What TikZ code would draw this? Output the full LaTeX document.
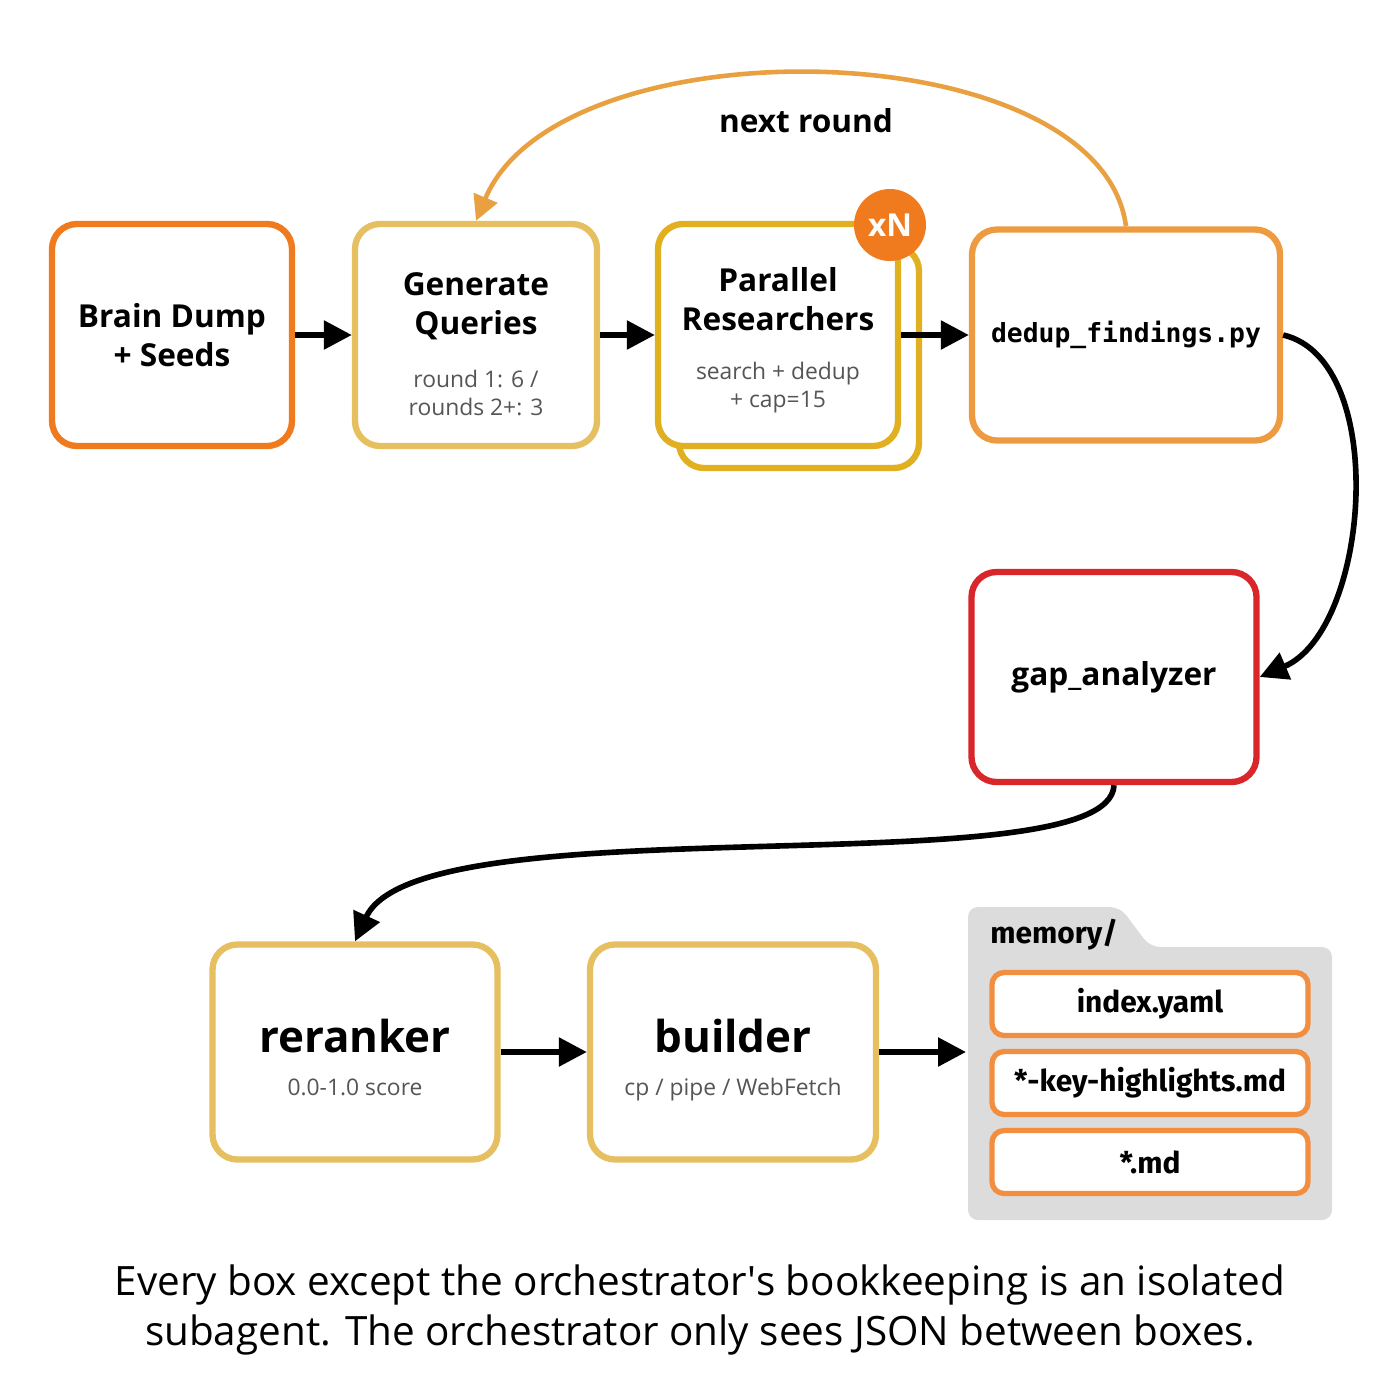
\documentclass[tikz,border=0pt]{standalone}
\usepackage{fontspec}
\setmainfont{Open Sans}
\newfontfamily\monof{DejaVu Sans Mono}
\newfontfamily\condf{Fira Sans}
\usetikzlibrary{arrows.meta}
\definecolor{cOrange}{HTML}{F07A1E}
\definecolor{cLight}{HTML}{E6C060}
\definecolor{cGold}{HTML}{E0B020}
\definecolor{cDedup}{HTML}{EE9A40}
\definecolor{cRed}{HTML}{D8262A}
\definecolor{cArc}{HTML}{E8A040}
\definecolor{cGray}{HTML}{DCDCDC}
\definecolor{cSub}{HTML}{555555}
\tikzset{
  box/.style={draw=#1, line width=1.8pt, rounded corners=0.25cm, fill=white, align=center, inner sep=0pt},
  ttl/.style={font=\bfseries\fontsize{9}{11}\selectfont, align=center},
  sub/.style={font=\fontsize{6.5}{8}\selectfont, text=cSub, align=center},
  flow/.style={-{Triangle[length=0.28cm,width=0.28cm]}, line width=1.6pt, black},
  mem/.style={draw=cOrange!85, line width=1.5pt, rounded corners=0.12cm, fill=white, minimum width=3.16cm, minimum height=0.63cm, font=\condf\bfseries\fontsize{8.5}{10}\selectfont}
}
\begin{document}
\begin{tikzpicture}
\useasboundingbox (0,0) rectangle (14,-14);
% top row
\node[box=cOrange, minimum width=2.4cm, minimum height=2.22cm] (brain) at (1.72,-3.35) {};
\node[ttl] at (brain) {Brain Dump\\+ Seeds};
\node[box=cLight, minimum width=2.42cm, minimum height=2.22cm] (gen) at (4.76,-3.35) {};
\node[ttl, anchor=south] at (4.76,-3.52) {Generate\\Queries};
\node[sub, anchor=north] at (4.76,-3.58) {round 1: 6 /\\rounds 2+: 3};
\node[box=cGold, minimum width=2.4cm, minimum height=2.22cm] (parB) at (7.99,-3.57) {};
\node[box=cGold, minimum width=2.4cm, minimum height=2.22cm] (par) at (7.78,-3.35) {};
\node[ttl, anchor=south] at (7.78,-3.43) {Parallel\\Researchers};
\node[sub, anchor=north] at (7.78,-3.50) {search + dedup\\+ cap=15};
\node[circle, fill=cOrange, minimum size=0.72cm, inner sep=0pt, text=white, font=\bfseries\fontsize{9}{11}\selectfont] (badge) at (8.9,-2.25) {xN};
\node[box=cDedup, minimum width=3.08cm, minimum height=2.11cm, font=\monof\bfseries\fontsize{7.5}{9}\selectfont] (dedup) at (11.26,-3.35) {dedup\_findings.py};
% gap
\node[box=cRed, minimum width=2.85cm, minimum height=2.1cm, ttl] (gap) at (11.14,-6.77) {gap\_analyzer};
% bottom row
\node[box=cLight, minimum width=2.85cm, minimum height=2.15cm] (rer) at (3.55,-10.52) {};
\node[font=\bfseries\fontsize{12.5}{14}\selectfont, anchor=base] at (3.55,-10.52) {reranker};
\node[sub, anchor=base] at (3.55,-10.95) {0.0-1.0 score};
\node[box=cLight, minimum width=2.86cm, minimum height=2.15cm] (bld) at (7.33,-10.52) {};
\node[font=\bfseries\fontsize{12.5}{14}\selectfont, anchor=base] at (7.33,-10.52) {builder};
\node[sub, anchor=base] at (7.33,-10.95) {cp / pipe / WebFetch};
% memory folder
\fill[cGray, rounded corners=0.1cm] (9.68,-12.2) -- (9.68,-9.07) -- (11.2,-9.07) -- (11.5,-9.47) -- (13.32,-9.47) -- (13.32,-12.2) -- cycle;
\node[font=\condf\bfseries\fontsize{8.5}{10}\selectfont, anchor=west] (memlbl) at (9.78,-9.35) {memory/};
\node[mem] (m1) at (11.5,-10.04) {index.yaml};
\node[mem] (m2) at (11.5,-10.83) {*-key-highlights.md};
\node[mem] (m3) at (11.5,-11.62) {*.md};
\coordinate (memin) at (9.66,-10.52);
% connectors
\draw[flow] (brain) -- (gen);
\draw[flow] (gen) -- (par);
\draw[flow] (par.east) -- (dedup.west);
\draw[flow] (rer) -- (bld);
\draw[flow] (bld.east) -- (memin);
\draw[flow] (dedup.east) .. controls (13.9,-3.6) and (13.7,-6.3) .. (gap.east);
\draw[flow] (gap.south) .. controls (11.1,-8.9) and (4.2,-8.0) .. (rer.north);
\draw[-{Triangle[length=0.25cm,width=0.25cm]}, line width=1.3pt, cArc] (dedup.north) .. controls (11.0,-0.3) and (5.6,-0.2) .. (gen.north);
\node[font=\bfseries\fontsize{9}{11}\selectfont] (nr) at (8.06,-1.21) {next round};
% caption
\node[font=\fontsize{11.5}{14}\selectfont, align=center] (cap) at (7,-13.1) {Every box except the orchestrator\textquotesingle s bookkeeping is an isolated\\subagent. The orchestrator only sees JSON between boxes.};
\end{tikzpicture}
\end{document}
